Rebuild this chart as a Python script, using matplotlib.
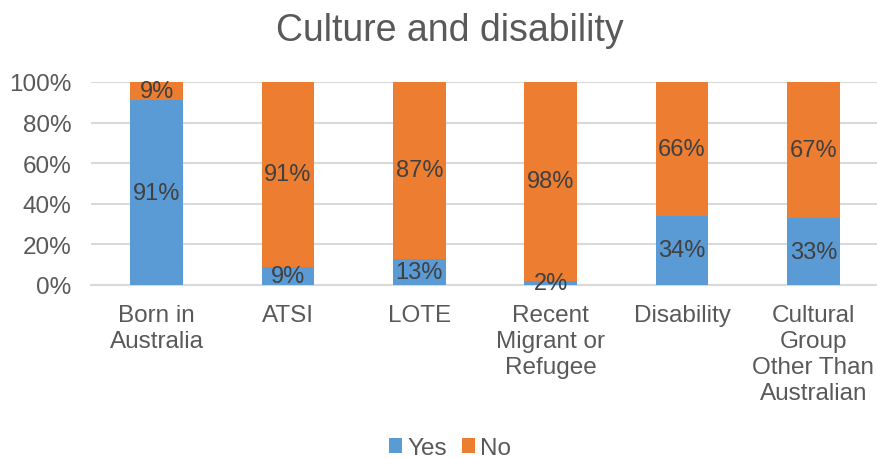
import matplotlib.pyplot as plt
import numpy as np

plt.rcParams['font.family'] = ['Liberation Sans', 'DejaVu Sans']

categories = ["Born in\nAustralia", "ATSI", "LOTE", "Recent\nMigrant or\nRefugee",
              "Disability", "Cultural\nGroup\nOther Than\nAustralian"]
yes_pct = [91, 9, 13, 2, 34, 33]
no_pct = [9, 91, 87, 98, 66, 67]
y_ticks = [0, 20, 40, 60, 80, 100]

BLUE = "#5B9BD5"
ORANGE = "#ED7D31"
GRAY_TXT = "#595959"
LABEL_TXT = "#404040"
GRID = "#D9D9D9"

fig = plt.figure(figsize=(8.77, 4.6), dpi=100)
ax = fig.add_axes([91 / 877, 1 - 286 / 460, 788 / 877, 203 / 460])

x = np.arange(len(categories))
w = 0.40
yes = np.array(yes_pct, dtype=float)
no = np.array(no_pct, dtype=float)

b1 = ax.bar(x, yes, w, color=BLUE, label="Yes", zorder=3)
b2 = ax.bar(x, no, w, bottom=yes, color=ORANGE, label="No", zorder=3)

# Etiquetas de valor centradas en cada segmento
for xi, y, n in zip(x, yes, no):
    ax.text(xi, y / 2, f"{int(y)}%", ha="center", va="center",
            fontsize=17, color=LABEL_TXT, zorder=4)
    ax.text(xi, y + n / 2, f"{int(n)}%", ha="center", va="center",
            fontsize=17, color=LABEL_TXT, zorder=4)

ax.set_xlim(-0.5, len(categories) - 0.5)
ax.set_ylim(0, 100)
ax.set_yticks(y_ticks)
ax.set_yticklabels([f"{t}%" for t in y_ticks])
ax.set_xticks(x)
ax.set_xticklabels(categories, linespacing=1.22)
ax.tick_params(axis="both", length=0, labelsize=17.5, colors=GRAY_TXT)
ax.tick_params(axis="x", pad=14)
ax.tick_params(axis="y", pad=14)

ax.grid(axis="y", color=GRID, linewidth=1.5, zorder=0)
for s in ["top", "right", "left"]:
    ax.spines[s].set_visible(False)
ax.spines["bottom"].set_color(GRID)
ax.spines["bottom"].set_linewidth(1.5)

fig.text(0.513, 1 - 31 / 460, "Culture and disability", ha="center", va="center",
         fontsize=27, color=GRAY_TXT)

fig.legend(handles=[b1, b2], labels=["Yes", "No"], loc="center",
           bbox_to_anchor=(0.513, 1 - 449 / 460), ncol=2, frameon=False,
           fontsize=17.5, labelcolor=GRAY_TXT, handlelength=0.55, handleheight=0.55,
           handletextpad=0.2, columnspacing=0.6)

fig.savefig("out.png", dpi=100)
